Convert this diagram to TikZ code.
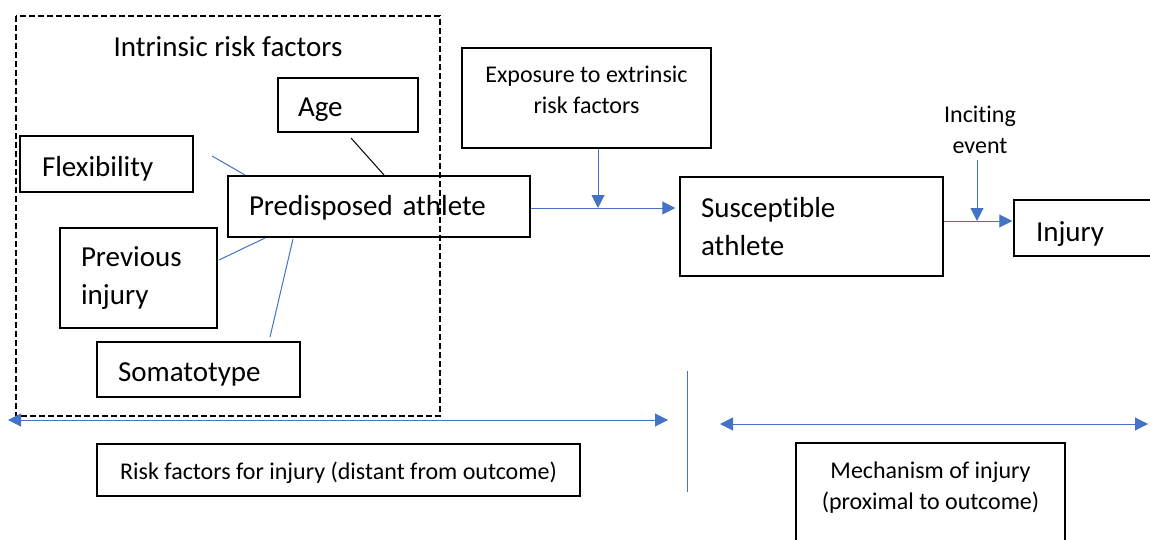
\documentclass[tikz,border=0pt]{standalone}
\usepackage{fontspec}
\setmainfont{Carlito}[Ligatures=NoCommon]
\usetikzlibrary{arrows.meta,calc}
\definecolor{ob}{HTML}{4472C4}
\tikzset{
  box/.style={draw=black, line width=1.5pt, rectangle, inner ysep=0pt, align=left},
  big/.style={font=\fontsize{29}{38.5}\selectfont},
  small/.style={font=\fontsize{24}{31.5}\selectfont},
  bl/.style={text depth=0pt, text height=#1},
  conn/.style={draw=ob, line width=1pt},
  arr/.style={conn, -{Triangle[length=13pt,width=13pt]}},
  darr/.style={conn, {Triangle[length=13pt,width=13pt]}-{Triangle[length=13pt,width=13pt]}},
}
\begin{document}
\begin{tikzpicture}[x=1pt,y=-1pt]
\useasboundingbox (0,0) rectangle (1150,540);
% intrinsic boxes
\node[box,big,bl=23.4pt,minimum width=140,minimum height=54,inner xsep=20,text width=100] (age) at (348,105) {Age};
\node[box,big,bl=24pt,minimum width=173,minimum height=56,inner xsep=22,text width=129] (flex) at (106.5,164) {Flexibility};
\node[box,big,bl=17pt,minimum width=302,minimum height=61,inner xsep=21,text width=260] (pred) at (379,206.5) {Predisposed athlete};
\node[box,big,minimum width=157,minimum height=100,inner xsep=21,text width=115] (prev) at (138.5,278) {Previous\\injury};
\node[box,big,bl=24.4pt,minimum width=203,minimum height=55,inner xsep=21,text width=161] (soma) at (198.5,369.5) {Somatotype};
\node[big] (intr) at (228,47) {Intrinsic risk factors};
% dashed frame
\draw[line width=1.5pt, dash pattern=on 6pt off 3pt] (16,16) rectangle (440,416);
% links to predisposed athlete
\coordinate (f1) at (212,156); \coordinate (f2) at (245,175);
\draw[conn] (f1) -- (f2);
\coordinate (a1) at (351,138); \coordinate (a2) at (384,175);
\draw[line width=1pt] (a1) -- (a2);
\coordinate (p1) at (219,260); \coordinate (p2) at (265,238);
\draw[conn] (p1) -- (p2);
\coordinate (s1) at (270,337); \coordinate (s2) at (293,239);
\draw[conn] (s1) -- (s2);
% right part
\node[box,minimum width=249,minimum height=100,
  label={[small,align=center,yshift=8pt,name=exptext]center:Exposure to extrinsic\\risk factors}] (exp) at (586.5,98) {};
\node[box,big,minimum width=263,minimum height=99,inner xsep=21,text width=221] (sus) at (811.5,226.5) {Susceptible\\athlete};
\node[box,big,bl=27pt,minimum width=160,minimum height=56,inner xsep=22,text width=116] (inj) at (1094,228) {Injury};
\node[small,align=center] (inc) at (980,130) {Inciting\\event};
\coordinate (j1) at (598,208);
\draw[arr] (exp.south -| j1) -- (j1);
\draw[arr, shorten >=4pt] (pred.east |- j1) -- (sus.west |- j1);
\coordinate (j2) at (977,221);
\coordinate (i1) at (977,160);
\draw[arr] (i1) -- (j2);
\draw[arr, shorten >=1pt] (sus.east |- j2) -- (inj.west |- j2);
% bottom
\coordinate (l1) at (8,420); \coordinate (l2) at (668,420);
\draw[darr] (l1) -- (l2);
\coordinate (v1) at (687,371); \coordinate (v2) at (687,492);
\draw[conn] (v1) -- (v2);
\coordinate (r1) at (720,424); \coordinate (r2) at (1148,424);
\draw[darr] (r1) -- (r2);
\node[box,small,bl=18pt,minimum width=483,minimum height=52,align=center] (rf) at (338.5,470) {Risk factors for injury (distant from outcome)};
\node[box,minimum width=269,minimum height=120,
  label={[small,align=center,yshift=15.5pt,name=mechtext]center:Mechanism of injury\\(proximal to outcome)}] (mech) at (930.5,503) {};
\end{tikzpicture}
\end{document}
